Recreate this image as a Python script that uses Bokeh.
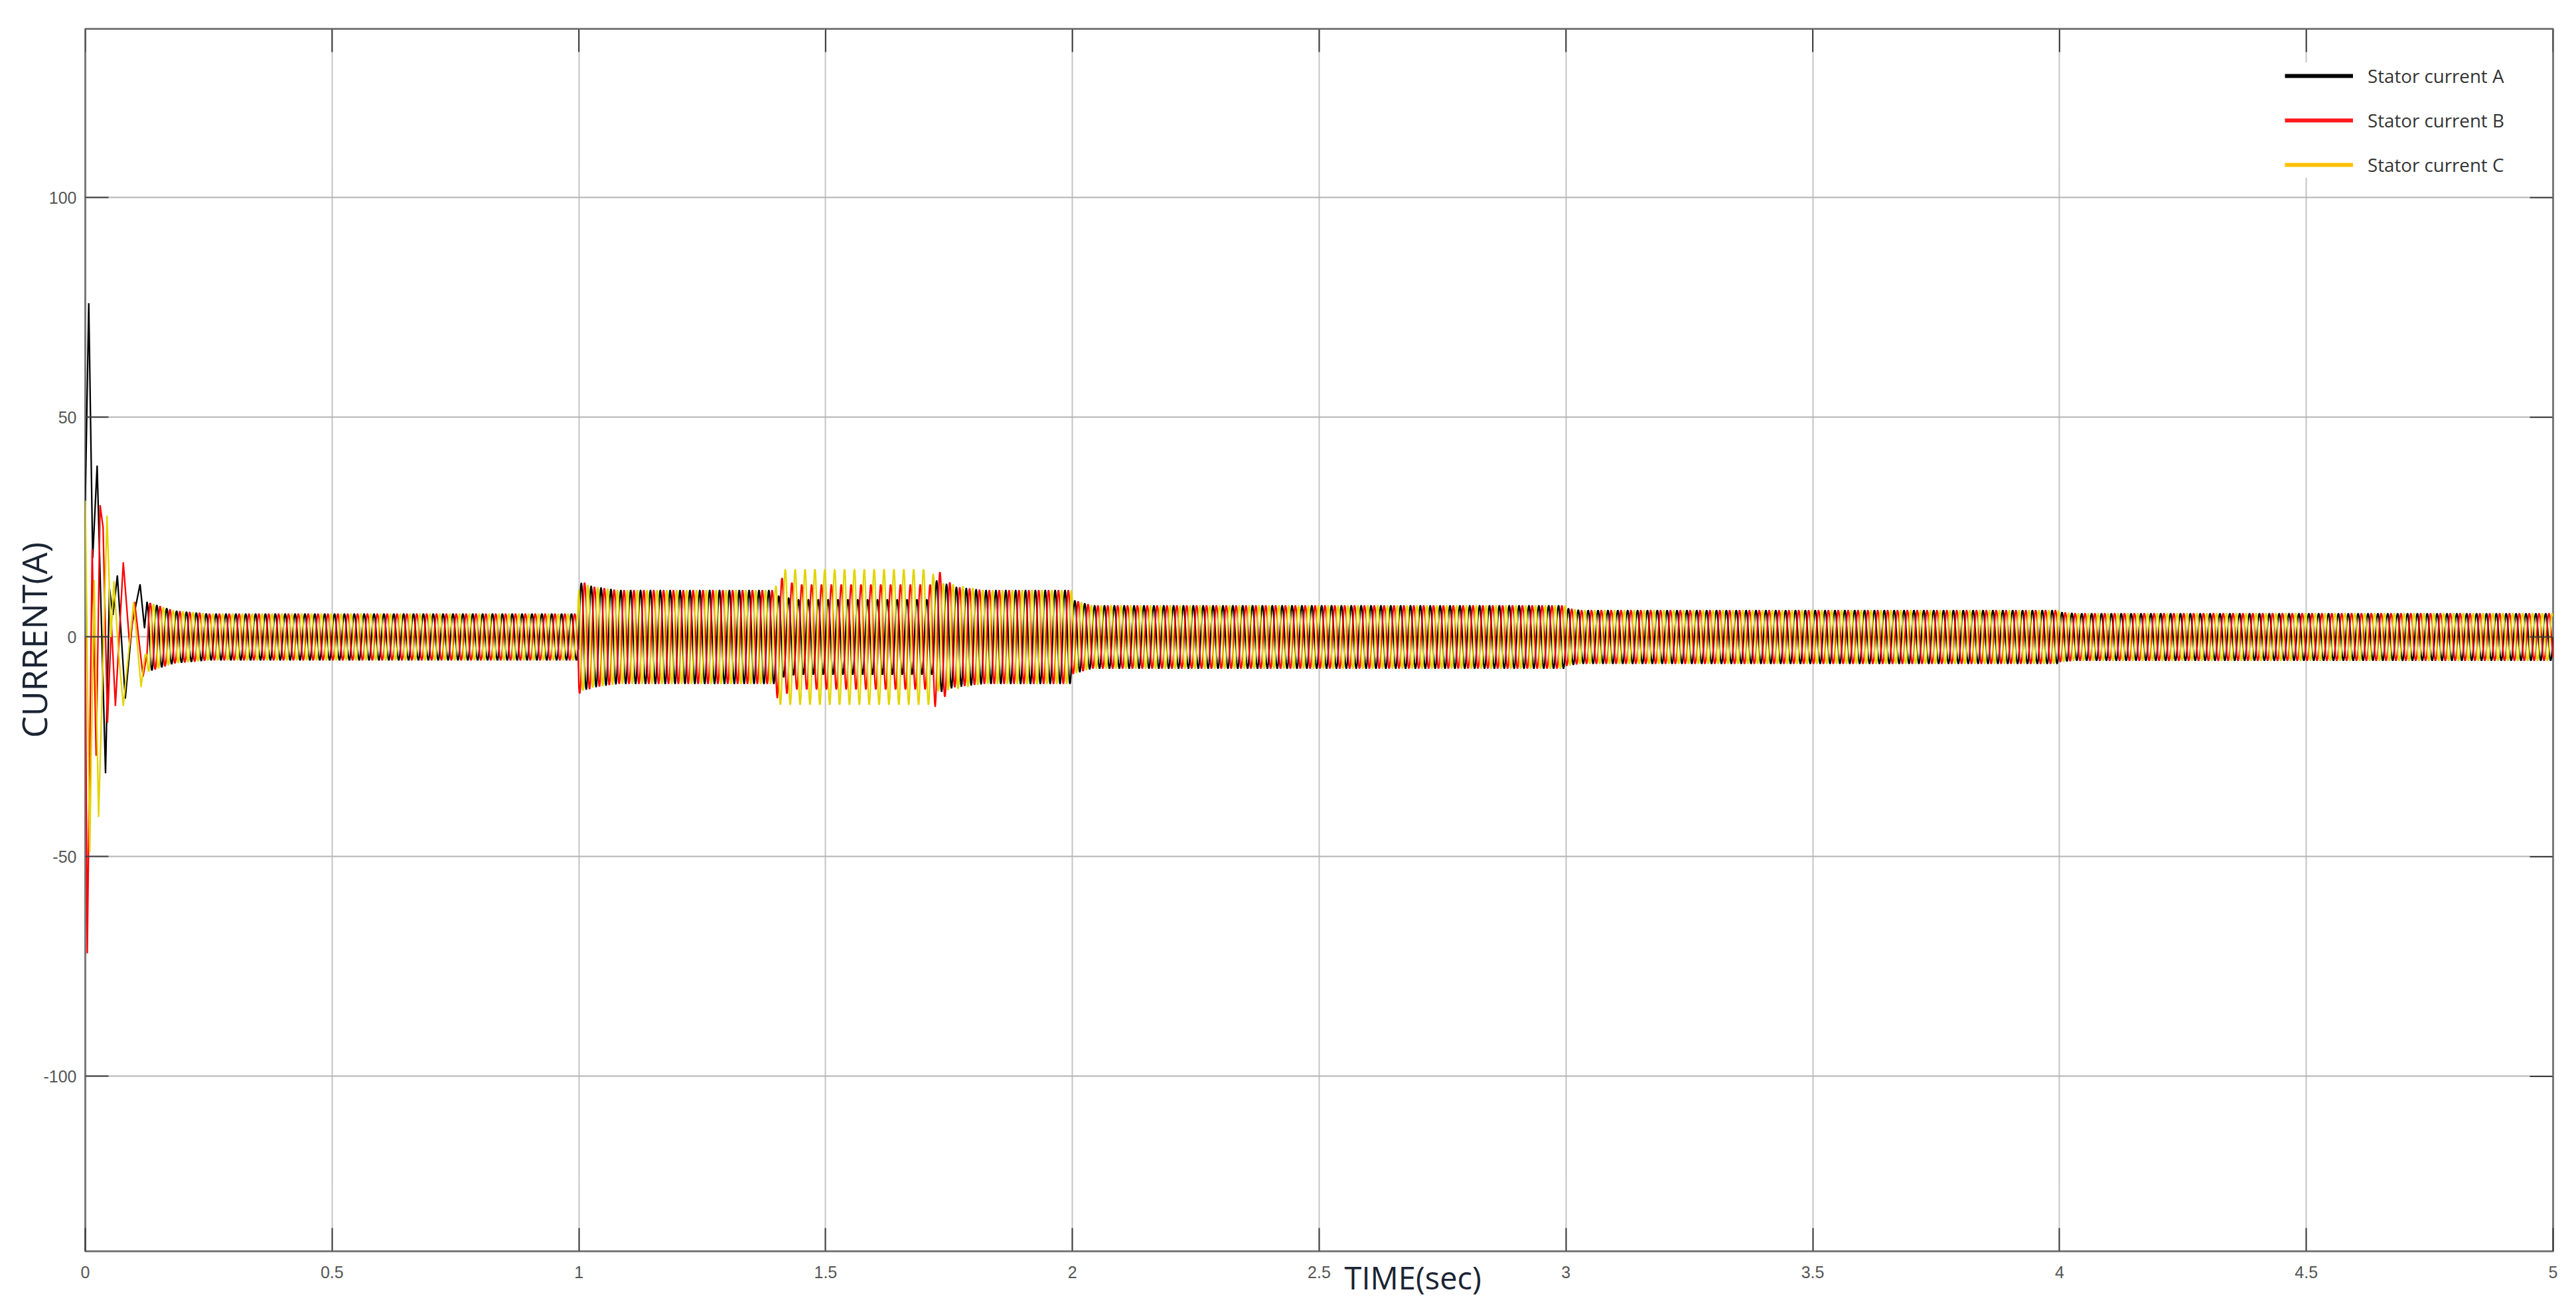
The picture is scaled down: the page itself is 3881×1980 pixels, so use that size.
import numpy as np
from bokeh.plotting import figure
from bokeh.models import (Range1d, FixedTicker, NumeralTickFormatter,
                          Legend, LegendItem, Title)
from bokeh.embed import file_html
from bokeh.resources import INLINE

# ---------------- data ----------------
X_TICKS = [0, 0.5, 1, 1.5, 2, 2.5, 3, 3.5, 4, 4.5, 5]
Y_TICKS = [-100, -50, 0, 50, 100]
SERIES = ["Stator current A", "Stator current B", "Stator current C"]
FREQ_HZ = 50.0
PHASE_DEG = [0.0, -120.0, 120.0]

# start-up transient: extrema (time s, current A) per phase
A_T = [0.000, 0.007, 0.015, 0.024, 0.041, 0.049, 0.056, 0.065, 0.081, 0.095, 0.111, 0.120]
A_V = [31.0, 76.0, 18.0, 39.0, -31.0, 11.0, 5.0, 14.0, -14.0, 3.0, 12.0, 2.0]
B_T = [0.000, 0.004, 0.014, 0.022, 0.030, 0.036, 0.045, 0.053, 0.061, 0.077, 0.090, 0.100, 0.117]
B_V = [0.0, -72.0, 20.0, -27.0, 30.0, 25.0, -19.5, 3.0, -15.7, 17.0, -2.0, 8.0, -9.0]
C_T = [0.000, 0.009, 0.018, 0.027, 0.044, 0.052, 0.058, 0.067, 0.077, 0.098, 0.113, 0.121]
C_V = [31.0, -49.0, 13.0, -41.0, 27.6, 0.0, 12.7, -3.0, -15.7, 7.9, -11.4, -4.0]

# steady-state amplitude envelope (time s, peak current A) per phase
ENV_T = [0.125, 0.18, 0.25, 0.998, 1.0, 1.03, 1.08, 1.398, 1.402, 1.44, 1.716, 1.722,
         1.76, 1.82, 1.998, 2.0, 2.04, 2.998, 3.0, 3.03, 3.998, 4.0, 4.03, 5.0]
ENV_A = [8.0, 6.0, 5.3, 5.3, 12.5, 11.5, 10.7, 10.7, 9.5, 8.6, 8.6, 13.0,
         11.5, 10.7, 10.7, 8.5, 7.2, 7.2, 6.6, 6.1, 6.1, 5.7, 5.4, 5.4]
ENV_B = [8.0, 6.0, 5.3, 5.3, 13.0, 11.5, 10.7, 10.7, 14.0, 12.0, 12.0, 16.0,
         11.5, 10.7, 10.7, 8.5, 7.2, 7.2, 6.6, 6.1, 6.1, 5.7, 5.4, 5.4]
ENV_C = [8.0, 6.0, 5.3, 5.3, 12.5, 11.5, 10.7, 10.7, 15.5, 15.5, 15.5, 12.5,
         12.0, 10.7, 10.7, 8.5, 7.2, 7.2, 6.6, 6.1, 6.1, 5.7, 5.4, 5.4]

COLORS = ["#000000", "#ff0000", "#e2d400"]
LEGEND_COLORS = ["#000000", "#ff1a1a", "#ffc000"]

# ---------------- layout constants (styling) ----------------
X0, X1 = 0.0, 5.0
Y0, Y1 = -139.8, 138.4
W, H = 3865, 1964
BL, BR, BT, BB = 128, 19, 43, 79
FRAME_W = W - BL - BR
FRAME_H = H - BT - BB
TICK_PX = 35

# ---------------- build waveforms ----------------
t_ss = np.arange(0.125, 5.0 + 1e-9, 0.001)


def wave(tr_t, tr_v, env, ph):
    amp = np.interp(t_ss, ENV_T, env)
    ss = amp * np.sin(2 * np.pi * FREQ_HZ * t_ss + np.deg2rad(ph))
    return np.concatenate([tr_t, t_ss]), np.concatenate([tr_v, ss])


waves = [wave(A_T, A_V, ENV_A, PHASE_DEG[0]),
         wave(B_T, B_V, ENV_B, PHASE_DEG[1]),
         wave(C_T, C_V, ENV_C, PHASE_DEG[2])]

# ---------------- figure ----------------
p = figure(width=W, height=H, output_backend="svg", toolbar_location=None,
           x_range=Range1d(X0, X1), y_range=Range1d(Y0, Y1),
           min_border_left=BL, min_border_right=BR, min_border_top=BT,
           min_border_bottom=BB, background_fill_color="white",
           border_fill_color="white")

p.outline_line_color = "#7a7a7a"
p.outline_line_width = 3

p.xgrid.grid_line_color = "#c4c4c4"
p.xgrid.grid_line_width = 2
p.ygrid.grid_line_color = "#b4b4b4"
p.ygrid.grid_line_width = 2

for (tx, vy), c in zip(waves, COLORS):
    p.line(x=tx, y=vy, line_color=c, line_width=2.3)

# axes
tick_font = "Liberation Sans Narrow, Arial Narrow, Liberation Sans, sans-serif"
for ax in (p.xaxis[0], p.yaxis[0]):
    ax.axis_line_color = None
    ax.major_tick_in = TICK_PX
    ax.major_tick_out = 0
    ax.minor_tick_line_color = None
    ax.major_tick_line_color = "#3c3c3c"
    ax.major_tick_line_width = 2
    ax.major_label_text_font = tick_font
    ax.major_label_text_font_size = "25px"
    ax.major_label_text_color = "#555555"

p.xaxis[0].ticker = FixedTicker(ticks=X_TICKS)
p.xaxis[0].formatter = NumeralTickFormatter(format="0.[0]")
p.xaxis[0].major_label_standoff = 22
p.yaxis[0].ticker = FixedTicker(ticks=Y_TICKS)
p.yaxis[0].formatter = NumeralTickFormatter(format="0")
p.yaxis[0].major_label_standoff = 13
p.yaxis[0].axis_label = "CURRENT(A)"
p.yaxis[0].axis_label_text_font = "Open Sans"
p.yaxis[0].axis_label_text_font_size = "52px"
p.yaxis[0].axis_label_text_font_style = "normal"
p.yaxis[0].axis_label_text_color = "#1b2433"
p.yaxis[0].axis_label_standoff = -24

# x axis title, placed right of centre as in the reference
p.add_layout(Title(text="TIME(sec)", align="left", offset=1897, vertical_align="top",
                   standoff=-72, text_font="Open Sans", text_font_size="47px",
                   text_font_style="normal", text_color="#1b2433"), "below")

# mirrored inner ticks on top and right edges
dy = TICK_PX * (Y1 - Y0) / FRAME_H
dx = TICK_PX * (X1 - X0) / FRAME_W
p.segment(x0=X_TICKS, y0=[Y1] * len(X_TICKS), x1=X_TICKS, y1=[Y1 - dy] * len(X_TICKS),
          line_color="#3c3c3c", line_width=2)
p.segment(x0=[X1] * len(Y_TICKS), y0=Y_TICKS, x1=[X1 - dx] * len(Y_TICKS), y1=Y_TICKS,
          line_color="#3c3c3c", line_width=2)

# legend
leg_r = [p.line(x=[np.nan], y=[np.nan], line_color=c, line_width=6) for c in LEGEND_COLORS]
legend = Legend(items=[LegendItem(label=s, renderers=[r]) for s, r in zip(SERIES, leg_r)],
                location=(3314, 1617), padding=8, spacing=27,
                glyph_width=103, glyph_height=40, label_height=40,
                label_standoff=22, label_text_font="Open Sans",
                label_text_font_size="27.7px", label_text_color="#333333",
                border_line_color=None, background_fill_color="white",
                background_fill_alpha=1.0)
p.add_layout(legend)

open("out.html", "w").write(file_html(p, INLINE))
